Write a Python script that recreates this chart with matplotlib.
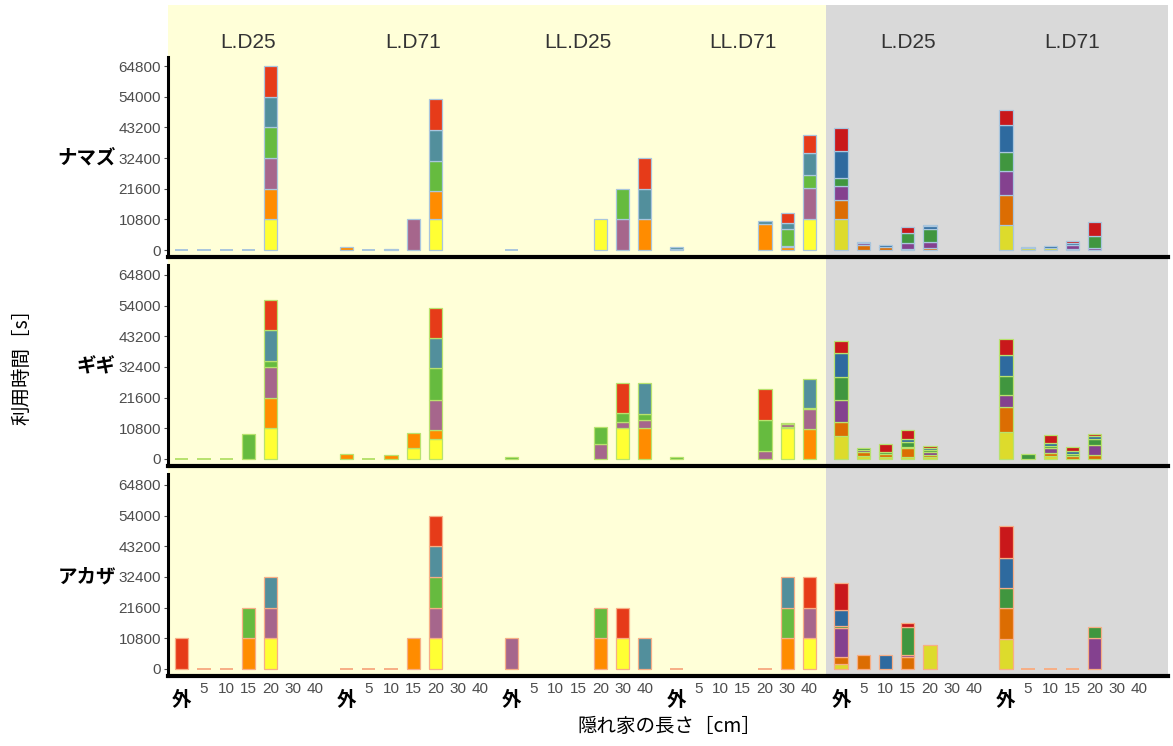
import matplotlib
matplotlib.use('Agg')
import matplotlib.pyplot as plt
import matplotlib.transforms as mtransforms
from matplotlib.patches import Rectangle

####################
# Data
categories = ['外', '5', '10', '15', '20', '30', '40']
groups = ['L.D25', 'L.D71', 'LL.D25', 'LL.D71', 'L.D25', 'L.D71']
fish = ['ナマズ', 'ギギ', 'アカザ']
yticks = [0, 10800, 21600, 32400, 43200, 54000, 64800]

Z = [0, 0, 0, 0, 0, 0]
# segments per bar: yellow, orange, purple, green, blue, red ; None = no bar
namazu_ld25 = [Z, Z, Z, Z, [10800, 10800, 10800, 10800, 10800, 10800], None, None]
namazu_ld71 = [[0, 1000, 0, 0, 0, 0], Z, [0, 0, 0, 0, 300, 0], [0, 0, 10800, 0, 0, 0],
               [10800, 9900, 0, 10800, 10800, 10800], None, None]
namazu_lld25 = [Z, None, None, None, [10800, 0, 0, 0, 0, 0], [0, 0, 10800, 10800, 0, 0],
                [0, 10800, 0, 0, 10800, 10800]]
namazu_lld71 = [[0, 0, 300, 0, 700, 0], None, None, None, [0, 9300, 0, 0, 900, 0],
                [0, 1200, 200, 6100, 2100, 3500], [10800, 0, 10900, 4600, 7700, 6400]]
namazu_ld25_b = [[10800, 6950, 4950, 2700, 9600, 8000], [0, 1700, 900, 0, 300, 0],
                 [0, 1050, 0, 0, 800, 0], [0, 300, 2000, 3700, 0, 2100],
                 [0, 600, 2300, 4400, 1200, 450], None, None]
namazu_ld71_b = [[8900, 10300, 8500, 6800, 9600, 5100], [600, 0, 0, 0, 300, 0],
                 [800, 0, 0, 0, 500, 0], [500, 0, 1200, 0, 700, 700],
                 [0, 0, 700, 4400, 0, 4800], None, None]

gigi_ld25 = [Z, Z, Z, [0, 0, 0, 8900, 0, 0], [10800, 10800, 10700, 2300, 10700, 10700], None, None]
gigi_ld71 = [[0, 1700, 0, 0, 0, 0], Z, [0, 1300, 0, 0, 0, 0], [3800, 5200, 0, 0, 0, 0],
             [7100, 3100, 10700, 11000, 10600, 10600], None, None]
gigi_lld25 = [[0, 0, 0, 600, 0, 0], None, None, None, [0, 0, 5450, 5950, 0, 0],
              [10800, 0, 2400, 2900, 0, 10800], [0, 10800, 2900, 2300, 10700, 0]]
gigi_lld71 = [[0, 0, 0, 700, 0, 0], None, None, None, [0, 0, 2900, 10800, 0, 11000],
              [10800, 600, 800, 500, 0, 0], [0, 10600, 6900, 500, 10000, 0]]
gigi_ld25_b = [[8100, 5000, 7800, 8100, 8350, 4150], [900, 1500, 800, 700, 0, 0],
               [700, 900, 0, 1000, 0, 2600], [700, 3100, 300, 2000, 900, 3200],
               [700, 700, 900, 800, 700, 800], None, None]
gigi_ld71_b = [[9600, 8600, 4300, 6800, 7200, 5700], [0, 0, 0, 1700, 0, 0],
               [1200, 900, 1700, 800, 900, 3000], [0, 900, 0, 1000, 900, 1500],
               [0, 1300, 3500, 2300, 1000, 700], None, None]

akaza_ld25 = [[0, 0, 0, 0, 0, 10800], Z, Z, [0, 10800, 0, 10800, 0, 0],
              [10800, 0, 10800, 0, 10800, 0], None, None]
akaza_ld71 = [Z, Z, Z, [0, 10800, 0, 0, 0, 0], [10800, 0, 10800, 10800, 10800, 10800], None, None]
akaza_lld25 = [[0, 0, 10800, 0, 0, 0], None, None, None, [0, 10800, 0, 10800, 0, 0],
               [10800, 0, 0, 0, 0, 10800], [0, 0, 0, 0, 10800, 0]]
akaza_lld71 = [Z, None, None, None, Z, [0, 10800, 0, 10800, 10800, 0],
               [10800, 0, 10800, 0, 0, 10800]]
akaza_ld25_b = [[1850, 2300, 10200, 800, 5800, 9500], [0, 4800, 0, 0, 0, 0],
                [0, 0, 0, 0, 4800, 0], [0, 4300, 500, 10000, 0, 1500],
                [8350, 0, 0, 0, 0, 0], None, None]
akaza_ld71_b = [[10600, 11000, 0, 7100, 10500, 11000], Z, Z, Z,
                [0, 0, 10800, 3900, 0, 0], None, None]

rows = [
    [namazu_ld25, namazu_ld71, namazu_lld25, namazu_lld71, namazu_ld25_b, namazu_ld71_b],
    [gigi_ld25, gigi_ld71, gigi_lld25, gigi_lld71, gigi_ld25_b, gigi_ld71_b],
    [akaza_ld25, akaza_ld71, akaza_lld25, akaza_lld71, akaza_ld25_b, akaza_ld71_b],
]

####################
# Style
colors_light = ['#FFFF33', '#FF8C00', '#A6668C', '#66BB3F', '#528F9C', '#E63B19']
colors_dark = ['#DDDB2C', '#DC6D02', '#84418F', '#40963F', '#2E6A9F', '#C9181B']
edge_colors = ['#A9C6DE', '#B8E26E', '#F7AE85']

JP = ['Noto Sans CJK JP', 'DejaVu Sans']
NUM = ['Liberation Sans', 'DejaVu Sans']

W, H = 1173, 746
fig = plt.figure(figsize=(W / 100, H / 100), dpi=100)

def fx(px):
    return px / W

def fy(py):
    return 1 - py / H

# backgrounds
fig.patches.append(Rectangle((fx(168), fy(678)), fx(826 - 168), (678 - 5) / H,
                             transform=fig.transFigure, facecolor='#FFFFD8',
                             edgecolor='none', zorder=-10))
fig.patches.append(Rectangle((fx(826), fy(678)), fx(1168 - 826), (678 - 5) / H,
                             transform=fig.transFigure, facecolor='#D9D9D9',
                             edgecolor='none', zorder=-10))

gstep = 7.42
bar_w = 0.6
row_px = [(57, 257), (265, 466), (474, 676)]
ylo = -7 / 184 * 64800

for r, (top, bot) in enumerate(row_px):
    ax = fig.add_axes([fx(168), fy(bot), fx(1168 - 168), (bot - top) / H])
    ax.patch.set_alpha(0)
    ax.set_xlim(-0.62, 44.4)
    h_px = bot - top
    ax.set_ylim(ylo, ylo + h_px / 184 * 64800)

    for g, gdata in enumerate(rows[r]):
        cols = colors_light if g < 4 else colors_dark
        for c, segs in enumerate(gdata):
            if segs is None:
                continue
            x = g * gstep + c
            base = 0
            if sum(segs) == 0:
                ax.bar(x, 0, width=bar_w, color='none', edgecolor=edge_colors[r],
                       linewidth=1.4, zorder=3)
                continue
            for k, v in enumerate(segs):
                if v <= 0:
                    continue
                ax.bar(x, v, bottom=base, width=bar_w, color=cols[k],
                       edgecolor=edge_colors[r], linewidth=0.9, zorder=3)
                base += v

    for s in ['top', 'right']:
        ax.spines[s].set_visible(False)
    ax.spines['left'].set_linewidth(2.2)
    ax.spines['bottom'].set_linewidth(3)
    ax.spines['left'].set_color('black')
    ax.spines['bottom'].set_color('black')

    ax.set_yticks(yticks)
    ax.set_yticklabels([str(t) for t in yticks], family=NUM, fontsize=11, color='#4D4D4D')
    ax.tick_params(axis='y', length=3, width=0.8, color='#4D4D4D', pad=2)
    ax.set_xticks([])

    trans = mtransforms.blended_transform_factory(ax.transAxes, ax.transData)
    ax.text(-0.052, 32400, fish[r], transform=trans, ha='right', va='center',
            family=JP, fontsize=14, fontweight='bold', color='black')

    if r == 0:
        tt = mtransforms.blended_transform_factory(ax.transData, ax.transAxes)
        for g, name in enumerate(groups):
            ax.text(g * gstep + 3, 1 + 14 / h_px, name, transform=tt, ha='center',
                    va='center', family=NUM, fontsize=15, color='#333333')

    if r == 2:
        tt = mtransforms.blended_transform_factory(ax.transData, ax.transAxes)
        for g in range(len(groups)):
            for c, lab in enumerate(categories):
                x = g * gstep + c
                if c == 0:
                    ax.text(x, -24 / h_px, lab, transform=tt, ha='center', va='center',
                            family=JP, fontsize=14, fontweight='bold', color='black')
                else:
                    ax.text(x, -13 / h_px, lab, transform=tt, ha='center', va='center',
                            family=NUM, fontsize=11, color='#4D4D4D')

fig.text(fx(669), fy(726), '隠れ家の長さ［cm］', ha='center', va='center',
         family=JP, fontsize=14, color='black')
fig.text(fx(22), fy(362), '利用時間［s］', ha='center', va='center', rotation=90,
         family=JP, fontsize=14, color='black')

fig.savefig('out.png', dpi=100)
